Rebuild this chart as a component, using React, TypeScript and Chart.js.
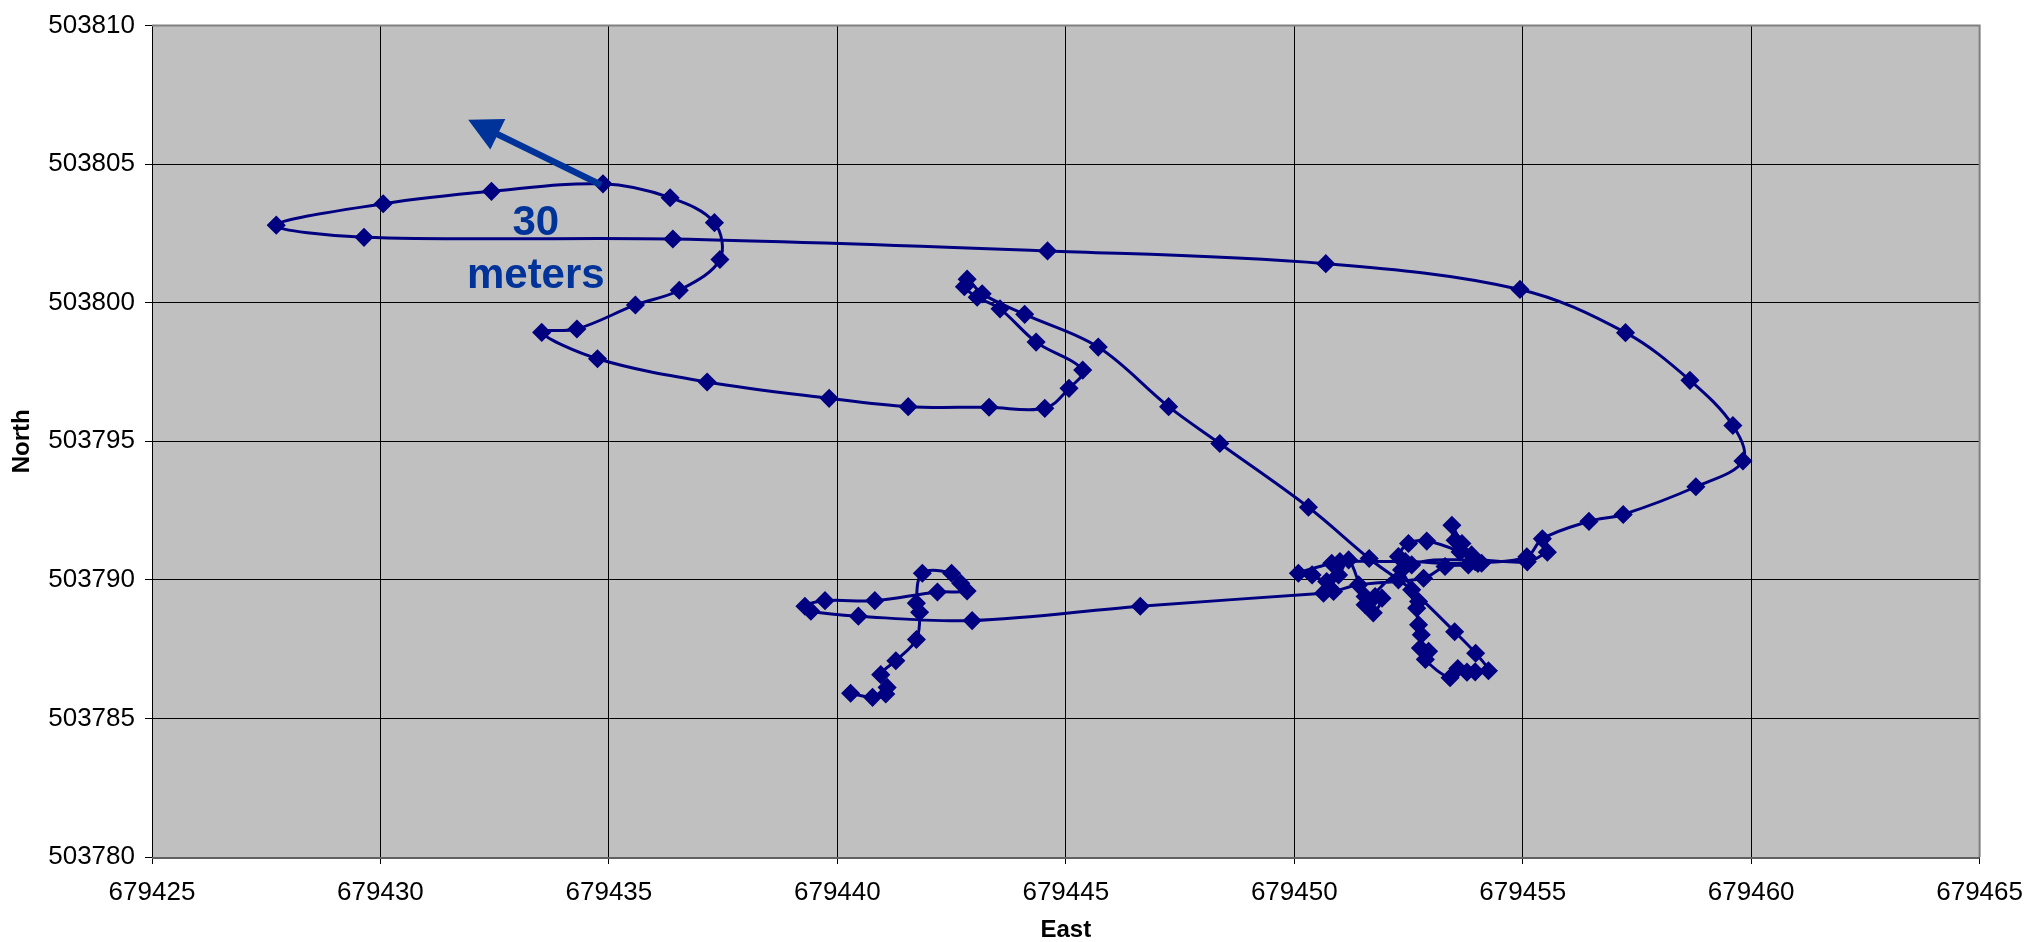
import React, { useEffect, useRef } from "react";
import { Chart, registerables } from "chart.js";

Chart.register(...registerables);

// Track points, in the order recorded
const eastValues: number[] = [
  679440.29, 679440.77, 679441.06, 679441.09, 679440.95, 679441.28, 679441.73, 679441.80, 679441.73, 679441.86,
  679442.50, 679442.70, 679442.84, 679442.19, 679440.82, 679439.73, 679439.29, 679439.42, 679440.46, 679442.95,
  679446.63, 679450.64, 679450.86, 679451.41, 679452.83, 679453.30, 679453.81, 679454.02, 679455.09, 679455.43,
  679456.45, 679457.20, 679458.79, 679459.82, 679459.60, 679458.66, 679457.25, 679454.94, 679450.69, 679444.60,
  679436.40, 679429.64, 679427.72, 679430.06, 679432.43, 679434.87, 679436.34, 679437.31, 679437.43, 679436.54,
  679435.58, 679434.30, 679433.53, 679434.75, 679437.15, 679439.82, 679441.55, 679443.32, 679444.54, 679445.07,
  679445.37, 679444.35, 679443.56, 679443.06, 679442.78, 679442.84, 679443.17, 679444.10, 679445.71, 679447.25,
  679448.37, 679450.31, 679451.64, 679452.28, 679452.57, 679453.51, 679453.97, 679454.25, 679453.96, 679453.78,
  679453.58, 679453.41, 679452.87, 679452.94, 679452.76, 679452.78, 679452.72, 679452.68, 679452.72, 679452.35,
  679452.28, 679452.50, 679452.90, 679453.63, 679454.10, 679453.88, 679453.52, 679453.45, 679453.67, 679453.96,
  679452.43, 679451.00, 679450.82, 679450.09, 679450.39, 679450.71, 679450.97, 679451.19, 679451.55, 679451.77,
  679451.92, 679451.73, 679451.55, 679452.57, 679453.94, 679455.10, 679455.54,
];

const northValues: number[] = [
  503785.91, 503785.76, 503785.88, 503786.12, 503786.58, 503787.08, 503787.85, 503788.83, 503789.16, 503790.24,
  503790.24, 503789.88, 503789.60, 503789.56, 503789.25, 503789.25, 503789.05, 503788.87, 503788.69, 503788.53,
  503789.05, 503789.52, 503789.58, 503789.82, 503790.06, 503790.48, 503790.54, 503790.59, 503790.83, 503791.48,
  503792.11, 503792.36, 503793.36, 503794.29, 503795.57, 503797.20, 503798.92, 503800.48, 503801.41, 503801.87,
  503802.30, 503802.36, 503802.80, 503803.57, 503804.02, 503804.29, 503803.79, 503802.89, 503801.56, 503800.45,
  503799.92, 503799.05, 503798.93, 503797.98, 503797.14, 503796.55, 503796.25, 503796.23, 503796.19, 503796.91,
  503797.57, 503798.58, 503799.78, 503800.20, 503800.58, 503800.85, 503800.32, 503799.58, 503798.40, 503796.25,
  503794.92, 503792.62, 503790.77, 503790.00, 503789.64, 503788.13, 503787.35, 503786.72, 503786.68, 503786.67,
  503786.80, 503786.47, 503787.13, 503787.42, 503787.54, 503788.02, 503788.38, 503788.98, 503789.22, 503790.36,
  503790.84, 503791.31, 503791.40, 503791.01, 503790.60, 503790.90, 503791.43, 503791.97, 503791.31, 503790.66,
  503790.66, 503790.66, 503790.60, 503790.24, 503790.18, 503789.94, 503790.18, 503790.72, 503789.40, 503789.40,
  503789.34, 503788.81, 503789.10, 503790.54, 503790.72, 503790.65, 503791.00,
];

const eastTicks: number[] = [679425, 679430, 679435, 679440, 679445, 679450, 679455, 679460, 679465];
const northTicks: number[] = [503780, 503785, 503790, 503795, 503800, 503805, 503810];

// Annotation: arrow (tail -> tip) and label
const arrowEast: number[] = [679434.83, 679431.92];
const arrowNorth: number[] = [503804.25, 503806.6];
const labelLines: string[] = ["30", "meters"];
const labelEast: number[] = [679433.4, 679433.4];
const labelNorth: number[] = [503802.85, 503800.95];

const FONT = "'Liberation Sans', Arial, sans-serif";

const overlayPlugin = {
  id: "overlay",
  beforeDraw(chart: any) {
    const { ctx, chartArea: a } = chart;
    ctx.save();
    ctx.fillStyle = "#c0c0c0";
    ctx.fillRect(a.left, a.top, a.right - a.left, a.bottom - a.top);
    ctx.restore();
  },
  afterDraw(chart: any) {
    const { ctx, chartArea: a, scales } = chart;
    const xs = scales.x;
    const ys = scales.y;
    ctx.save();
    // plot border (top / right)
    ctx.strokeStyle = "#808080";
    ctx.lineWidth = 2;
    ctx.beginPath();
    ctx.moveTo(a.left, a.top);
    ctx.lineTo(a.right, a.top);
    ctx.lineTo(a.right, a.bottom);
    ctx.stroke();
    // bottom axis band
    ctx.strokeStyle = "#606060";
    ctx.lineWidth = 2;
    ctx.beginPath();
    ctx.moveTo(a.left, a.bottom + 1);
    ctx.lineTo(a.right, a.bottom + 1);
    ctx.stroke();

    // arrow
    const x0 = xs.getPixelForValue(arrowEast[0]);
    const y0 = ys.getPixelForValue(arrowNorth[0]);
    const x1 = xs.getPixelForValue(arrowEast[1]);
    const y1 = ys.getPixelForValue(arrowNorth[1]);
    const ang = Math.atan2(y1 - y0, x1 - x0);
    const headLen = 33;
    const headHalf = 17;
    const bx = x1 - Math.cos(ang) * headLen;
    const by = y1 - Math.sin(ang) * headLen;
    ctx.strokeStyle = "#003399";
    ctx.fillStyle = "#003399";
    ctx.lineWidth = 6.5;
    ctx.beginPath();
    ctx.moveTo(x0, y0);
    ctx.lineTo(bx + Math.cos(ang) * 4, by + Math.sin(ang) * 4);
    ctx.stroke();
    ctx.beginPath();
    ctx.moveTo(x1, y1);
    ctx.lineTo(bx + Math.sin(ang) * headHalf, by - Math.cos(ang) * headHalf);
    ctx.lineTo(bx - Math.sin(ang) * headHalf, by + Math.cos(ang) * headHalf);
    ctx.closePath();
    ctx.fill();

    // label
    ctx.font = `bold 42px ${FONT}`;
    ctx.textAlign = "center";
    ctx.textBaseline = "middle";
    labelLines.forEach((t, i) => {
      ctx.fillText(t, xs.getPixelForValue(labelEast[i]), ys.getPixelForValue(labelNorth[i]));
    });
    ctx.restore();
  },
};

export default function App() {
  const ref = useRef<HTMLCanvasElement | null>(null);

  useEffect(() => {
    document.body.style.margin = "0";
    const canvas = ref.current;
    if (!canvas) return;
    Chart.defaults.font.family = FONT;
    const points = eastValues.map((e, i) => ({ x: e, y: northValues[i] }));
    const chart = new Chart(canvas, {
      type: "scatter",
      data: {
        datasets: [
          {
            label: "Track",
            data: points,
            showLine: true,
            borderColor: "#000080",
            backgroundColor: "#000080",
            borderWidth: 3,
            tension: 0.35,
            pointStyle: "rectRot",
            pointRadius: 8.5,
            pointBorderWidth: 1.5,
            pointBackgroundColor: "#000080",
            pointBorderColor: "#000080",
          },
        ],
      },
      options: {
        responsive: false,
        devicePixelRatio: 1,
        animation: false,
        layout: { padding: { top: 19, right: 55, left: 0, bottom: 0 } },
        plugins: {
          legend: { display: false },
          tooltip: { enabled: false },
        },
        scales: {
          x: {
            type: "linear",
            min: eastTicks[0],
            max: eastTicks[eastTicks.length - 1],
            afterBuildTicks: (s: any) => {
              s.ticks = eastTicks.map((v) => ({ value: v }));
            },
            afterFit: (s: any) => {
              s.height = 85;
            },
            ticks: {
              callback: (v: any) => String(v),
              color: "#000",
              font: { size: 26, family: FONT },
              padding: 13,
              maxRotation: 0,
              autoSkip: false,
            },
            grid: { color: "#000", lineWidth: 1, tickLength: 7, drawTicks: true },
            border: { color: "#000", width: 1 },
            title: {
              display: true,
              text: "East",
              color: "#000",
              font: { size: 24, weight: "bold", family: FONT, lineHeight: 1 },
              padding: { top: 0, bottom: 0 },
            },
          },
          y: {
            type: "linear",
            min: northTicks[0],
            max: northTicks[northTicks.length - 1],
            afterBuildTicks: (s: any) => {
              s.ticks = northTicks.map((v) => ({ value: v }));
            },
            afterFit: (s: any) => {
              s.width = 152;
            },
            ticks: {
              callback: (v: any) => String(v),
              color: "#000",
              font: { size: 26, family: FONT },
              padding: 10,
              autoSkip: false,
            },
            grid: { color: "#000", lineWidth: 1, tickLength: 7, drawTicks: true },
            border: { color: "#000", width: 1 },
            title: {
              display: true,
              text: "North",
              color: "#000",
              font: { size: 24, weight: "bold", family: FONT, lineHeight: 1 },
              padding: { top: 10, bottom: 0 },
            },
          },
        },
      },
      plugins: [overlayPlugin],
    } as any);
    return () => chart.destroy();
  }, []);

  return (
    <div style={{ width: 2036, height: 942, overflow: "hidden", background: "#fff" }}>
      <canvas ref={ref} width={2036} height={942} style={{ display: "block", width: 2036, height: 942 }} />
    </div>
  );
}
